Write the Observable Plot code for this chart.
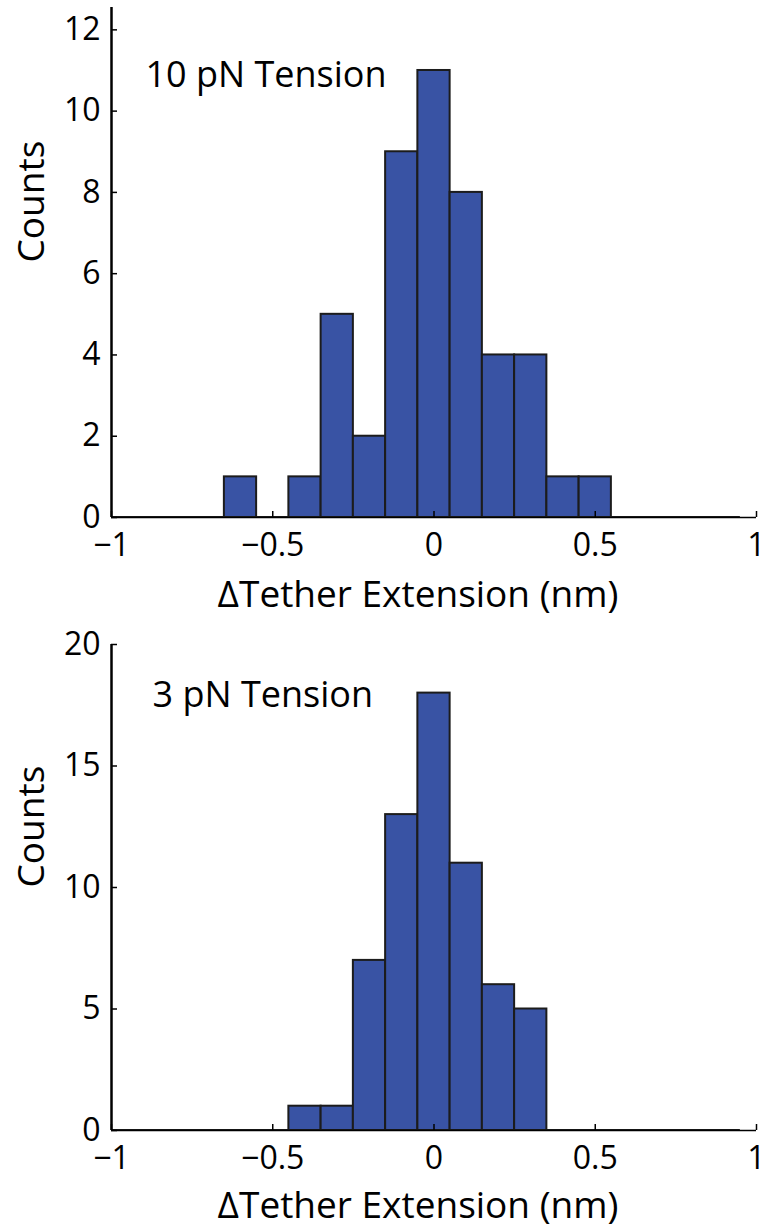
<!DOCTYPE html>
<html>
<head>
<meta charset="utf-8">
<script src="https://cdn.jsdelivr.net/npm/d3@7"></script>
<script src="https://cdn.jsdelivr.net/npm/@observablehq/plot@0.6"></script>
<style>
  body { margin: 0; background: #fff; }
  #wrap { width: 762px; }
  svg { display: block; }
</style>
</head>
<body>
<div id="wrap"></div>
<script>
// ---- data ----
const binCenters = [-1.0, -0.9, -0.8, -0.7, -0.6, -0.5, -0.4, -0.3, -0.2, -0.1,
                    0.0, 0.1, 0.2, 0.3, 0.4, 0.5, 0.6, 0.7, 0.8, 0.9];
const binWidth = 0.1;
const counts10pN = [0, 0, 0, 0, 1, 0, 1, 5, 2, 9, 11, 8, 4, 4, 1, 1, 0, 0, 0, 0];
const counts3pN  = [0, 0, 0, 0, 0, 0, 1, 1, 7, 13, 18, 11, 6, 5, 0, 0, 0, 0, 0, 0];
const xTicks = [-1, -0.5, 0, 0.5, 1];
const yTicks10 = [0, 2, 4, 6, 8, 10, 12];
const yTicks3 = [0, 5, 10, 15, 20];
const panelTitles = ["10 pN Tension", "3 pN Tension"];
const xLabel = "ΔTether Extension (nm)";
const yLabel = "Counts";

const FONT = "'Open Sans', sans-serif";
const BAR_FILL = "#3953a4";

function panel({counts, yMax, yTicks, title, marginTop, titleDx, titleDy, xLabelDy}) {
  const data = binCenters.map((c, i) => ({x: c, count: counts[i]}));
  const edges = [binCenters[0] - binWidth / 2, binCenters[binCenters.length - 1] + binWidth / 2];
  return Plot.plot({
    width: 762,
    height: 613,
    marginLeft: 111,
    marginRight: 6,
    marginTop,
    marginBottom: 96,
    style: {fontFamily: FONT, fontSize: "32px", color: "#000", background: "#fff", overflow: "visible"},
    x: {domain: [-1, 1], ticks: xTicks},
    y: {domain: [0, yMax], ticks: yTicks},
    marks: [
      Plot.rectY(data.filter(d => d.count > 0), {
        x1: d => d.x - binWidth / 2, x2: d => d.x + binWidth / 2, y1: 0, y2: "count",
        fill: BAR_FILL, stroke: "#1c1c1c", strokeWidth: 2, clip: true
      }),
      Plot.ruleY([0], {x1: edges[0], x2: edges[1], stroke: "#1c1c1c", strokeWidth: 3, clip: true}),
      Plot.ruleY([0], {stroke: "#000", strokeWidth: 1.5}),
      Plot.ruleX([-1], {stroke: "#000", strokeWidth: 2.5}),
      Plot.axisX({ticks: xTicks, tickSize: -6, tickPadding: 22, strokeWidth: 1.5, fontSize: 32,
                  tickFormat: d => (d < 0 ? "\u2212" : "") + Math.abs(d), label: null}),
      Plot.axisY({ticks: yTicks, tickSize: -6, tickPadding: 17, strokeWidth: 1.5, fontSize: 32, label: null}),
      Plot.text([yLabel], {frameAnchor: "left", dx: -79, rotate: -90, fontSize: 37, fill: "#000"}),
      Plot.text([xLabel], {frameAnchor: "bottom", dx: -16, dy: xLabelDy, fontSize: 37, fill: "#000"}),
      Plot.text([title], {frameAnchor: "top-left", textAnchor: "start", dx: titleDx, dy: titleDy, fontSize: 36, fill: "#000"})
    ]
  });
}

const wrap = document.getElementById("wrap");
wrap.appendChild(panel({counts: counts10pN, yMax: 12.55, yTicks: yTicks10, title: panelTitles[0],
                        marginTop: 7, titleDx: 34, titleDy: 54, xLabelDy: 89}));
wrap.appendChild(panel({counts: counts3pN, yMax: 20, yTicks: yTicks3, title: panelTitles[1],
                        marginTop: 31, titleDx: 41, titleDy: 37, xLabelDy: 87}));
</script>
</body>
</html>
